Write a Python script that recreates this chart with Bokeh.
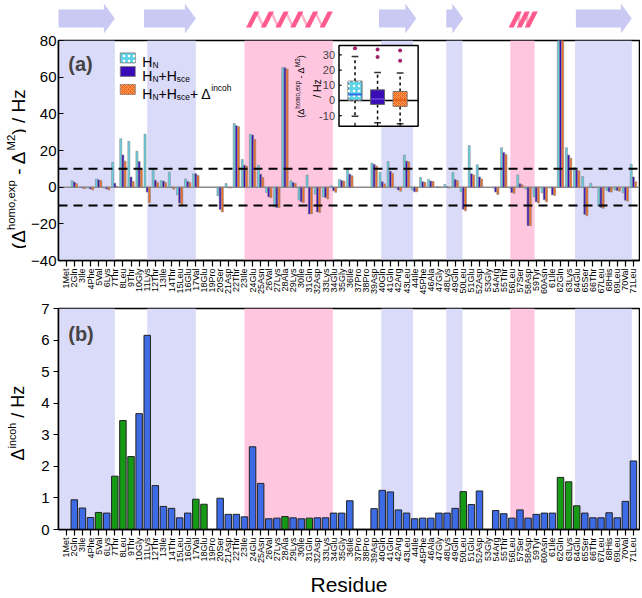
import math
import numpy as np
from bokeh.plotting import figure
from bokeh.layouts import column, row
from bokeh.models import Range1d, FixedTicker, BoxAnnotation, Span, Label, ColumnDataSource
from bokeh.transform import dodge
from bokeh.embed import file_html
from bokeh.resources import INLINE

# ---------------- data ----------------
residues = ["1Met", "2Gln", "3Ile", "4Phe", "5Val", "6Lys", "7Thr", "8Leu", "9Thr", "10Gly",
            "11Lys", "12Thr", "13Ile", "14Thr", "15Leu", "16Glu", "17Val", "18Glu", "19Pro", "20Ser",
            "21Asp", "22Thr", "23Ile", "24Glu", "25Asn", "26Val", "27Lys", "28Ala", "29Lys", "30Ile",
            "31Gln", "32Asp", "33Lys", "34Glu", "35Gly", "36Ile", "37Pro", "38Pro", "39Asp", "40Gln",
            "41Gln", "42Arg", "43Leu", "44Ile", "45Phe", "46Ala", "47Gly", "48Lys", "49Gln", "50Leu",
            "51Glu", "52Asp", "53Gly", "54Arg", "55Thr", "56Leu", "57Ser", "58Asp", "59Tyr", "60Asn",
            "61Ile", "62Gln", "63Lys", "64Glu", "65Ser", "66Thr", "67Leu", "68His", "69Leu", "70Val",
            "71Leu"]

# panel (a): Delta(homo,exp) - Delta(M2), Hz
hn = [None, 3.5, -0.2, -0.5, 4.4, -0.5, 13.5, 26.4, 25.0, 19.6,
      28.9, 9.5, 3.6, 8.2, -4.2, 4.5, 7.3, None, None, -4.7,
      2.0, 34.7, 15.1, 28.9, 12.0, -2.9, -10.7, 65.3, 3.5, -7.0,
      6.6, -3.8, -5.3, 0.8, 4.2, 9.8, None, None, 13.1, 8.2,
      14.0, -0.5, 17.5, -1.5, 5.3, 4.2, 0.3, 1.5, 8.0, -2.5,
      22.7, 12.2, None, -0.5, 21.5, -0.5, 6.7, -1.0, -5.3, -3.1,
      -0.5, 100.0, 21.5, 10.7, 5.8, 2.2, -10.4, -1.8, -1.5, -3.1,
      12.5]
hn_sce = [None, 2.8, -0.5, -1.0, 4.0, -1.0, 2.2, 17.6, 5.5, 14.0,
          -2.7, 3.8, 3.3, -0.3, -8.7, 3.1, 7.3, None, None, -12.2,
          -0.2, 33.5, 12.0, 28.5, 7.1, -5.3, -11.1, 65.1, 2.5, -8.0,
          -14.7, -13.5, -5.6, -2.0, 3.6, 7.1, None, None, 12.5, 2.9,
          8.7, -1.5, 14.2, -2.5, 2.9, 3.3, -0.3, 0.2, 4.2, -12.0,
          7.3, 5.6, None, -2.7, 18.9, -2.9, 1.8, -21.0, -8.0, -6.9,
          -4.2, 100.0, 17.5, 9.3, -14.9, -0.3, -11.1, -2.5, -1.8, -7.1,
          5.6]
hn_sce_inc = [None, 2.0, -0.8, -1.5, 3.6, -1.5, 0.3, 14.2, 3.1, 10.0,
              -8.5, 2.5, 2.5, -1.1, -9.5, 2.5, 6.4, None, None, -13.5,
              -0.5, 33.0, 11.5, 26.0, 5.3, -5.8, -11.1, 64.4, 2.0, -8.4,
              -14.5, -13.8, -6.4, -2.8, 3.3, 6.2, None, None, 11.6, 1.8,
              7.6, -2.2, 13.8, -2.5, 2.7, 3.1, -0.3, -0.5, 3.6, -12.9,
              6.7, 4.4, None, -4.0, 17.8, -3.3, 1.3, -21.0, -8.7, -8.0,
              -4.5, 100.0, 15.8, 8.9, -15.6, -0.3, -11.5, -2.7, -2.2, -7.6,
              2.9]

# panel (b): Delta(incoh), Hz
incoh = [None, 0.94, 0.68, 0.38, 0.54, 0.52, 1.69, 3.45, 2.31, 3.67,
         6.15, 1.39, 0.73, 0.67, 0.37, 0.52, 0.96, 0.80, None, 0.99,
         0.48, 0.48, 0.40, 2.62, 1.46, 0.34, 0.36, 0.41, 0.37, 0.34,
         0.36, 0.37, 0.37, 0.52, 0.52, 0.91, None, None, 0.66, 1.24,
         1.19, 0.62, 0.52, 0.34, 0.36, 0.36, 0.52, 0.52, 0.67, 1.20,
         0.79, 1.22, None, 0.60, 0.50, 0.36, 0.62, 0.36, 0.48, 0.52,
         0.52, 1.65, 1.51, 0.75, 0.52, 0.37, 0.37, 0.53, 0.37, 0.89,
         2.17]
green_residues = [5, 7, 8, 9, 17, 18, 28, 31, 50, 62, 63, 64]

# inset box plot statistics (Hz)
box_pos = [1, 2, 3]
box_q1 = [0.2, -2.6, -3.9]
box_q3 = [12.7, 7.0, 5.9]
box_med = [3.9, 1.0, 0.5]
box_lo = [-10.3, -14.7, -15.3]
box_hi = [28.9, 18.4, 18.0]
out_x = [1, 2, 2, 3, 3]
out_y = [34.4, 33.5, 28.5, 32.9, 26.1]
inset_ticks = [30, 20, 10, 0, -10]

# secondary structure (residue spans)
strands = [(0.0, 7.0), (10.6, 17.0), (39.6, 44.2), (47.9, 50.0), (63.9, 70.8)]
helices = [(23.2, 33.9, 6), (55.6, 59.2, 3)]
blue_bands = [(0.0, 7.0), (11.0, 17.0), (39.9, 43.8), (47.9, 49.9), (63.8, 70.8)]
pink_bands = [(23.0, 33.9), (55.8, 58.8)]

# ---------------- styling ----------------
FONT = "Liberation Sans"
C_CYAN = "#5fd3e8"
C_DBLUE = "#3a0cb8"
C_ORANGE = "#f26b21"
C_BBAR = "#3d6be6"
C_GBAR = "#169a16"
C_BAND_B = "#dadaf9"
C_BAND_P = "#ffc6e0"
C_ARROW = "#c9c9f3"
C_HELIX = "#ff5a8e"
C_HELIX_L = "#ffb3cb"

CW = {' ': .278, '(': .333, ')': .333, '-': .333, '/': .278, ',': .278, '+': .584,
      'Δ': .668, 'a': .556, 'b': .556, 'c': .5, 'd': .556, 'e': .556, 'h': .556,
      'i': .222, 'm': .833, 'n': .556, 'o': .556, 'p': .556, 's': .5, 'x': .5,
      'z': .5, 'H': .722, 'M': .833, 'N': .722}


def tw(s, size):
    return sum(CW.get(c, 0.556) for c in s) * size


def rich(p, x, y, segs, size, angle=0.0, align="center", x_offset=0.0, y_offset=0.0,
         ratio=0.6, sup=0.4, color="black", **rng):
    pieces = []
    total = 0.0
    for t, kind in segs:
        fs = size if kind == "n" else size * ratio
        shift = 0.0 if kind == "n" else (size * sup if kind == "sup" else -size * 0.22)
        pieces.append((t, fs, shift, total))
        total += tw(t, fs)
    start = -total / 2 if align == "center" else 0.0
    ca, sa = math.cos(angle), math.sin(angle)
    for t, fs, shift, cum in pieces:
        lead = len(t) - len(t.lstrip())
        a = start + cum + tw(" " * lead, fs)
        dx = a * ca - shift * sa
        dy = a * sa + shift * ca
        p.add_layout(Label(x=x, y=y, x_offset=x_offset + dx, y_offset=y_offset + dy,
                           text=t.strip(), angle=angle, text_font=FONT,
                           text_font_size=f"{fs:.1f}px", text_baseline="alphabetic",
                           text_align="left", text_color=color, **rng))


def nan(v):
    return np.array([np.nan if a is None else a for a in v], dtype=float)


resnum = list(range(1, len(residues) + 1))
LABW = 26          # width of the strip holding the rotated y titles
LB, RB = 32, 1
FW = 640 - LABW - LB - RB
FH_A, FH_B = 220, 221
TOP_A, TOP_B = 7, 11
TOPH = 33
x_range = Range1d(0.05, 71.75)


def add_bands(p):
    for s, e in blue_bands:
        p.add_layout(BoxAnnotation(left=s, right=e, fill_color=C_BAND_B, fill_alpha=1.0,
                                   line_color=None, level="underlay"))
    for s, e in pink_bands:
        p.add_layout(BoxAnnotation(left=s, right=e, fill_color=C_BAND_P, fill_alpha=1.0,
                                   line_color=None, level="underlay"))


def style_axes(p, yticks, tick_in, tick_out, standoff):
    p.grid.visible = False
    p.border_fill_alpha = 0
    p.outline_line_color = "black"
    p.outline_line_width = 1.5
    p.xaxis.ticker = FixedTicker(ticks=resnum)
    p.xaxis.major_label_overrides = {i: n for i, n in zip(resnum, residues)}
    p.xaxis.major_label_orientation = math.pi / 2
    p.xaxis.major_label_text_font = FONT
    p.xaxis.major_label_text_font_size = "9px"
    p.xaxis.major_label_standoff = 2
    p.xaxis.major_tick_out = 6
    p.xaxis.major_tick_in = 0
    p.yaxis.ticker = FixedTicker(ticks=yticks)
    p.yaxis.major_label_text_font = FONT
    p.yaxis.major_label_text_font_size = "15px"
    p.yaxis.major_tick_out = tick_out
    p.yaxis.major_tick_in = tick_in
    p.yaxis.major_label_standoff = standoff
    for ax in (p.xaxis, p.yaxis):
        ax.minor_tick_line_color = None
        ax.axis_line_width = 1.5
        ax.axis_line_color = "black"
        ax.major_tick_line_color = "black"
        ax.major_tick_line_width = 1.2
        ax.major_label_text_color = "black"


def title_strip(y_range, fh, top_border):
    f = figure(frame_width=LABW, frame_height=fh, x_range=Range1d(0, LABW), y_range=y_range,
               min_border_left=0, min_border_right=0, min_border_top=top_border,
               min_border_bottom=0, toolbar_location=None, output_backend="svg",
               x_axis_location=None, y_axis_location=None, outline_line_color=None)
    f.grid.visible = False
    return f


# ---------------- top: secondary structure ----------------
top = figure(frame_width=FW, frame_height=TOPH, x_range=x_range, y_range=Range1d(0, TOPH),
             min_border_left=LABW + LB, min_border_right=RB, min_border_top=0,
             min_border_bottom=0, toolbar_location=None, output_backend="svg",
             x_axis_location=None, y_axis_location=None, outline_line_color=None)
top.grid.visible = False
HL = 1.35
axs, ays = [], []
for s, e in strands:
    axs.append([s, e - HL, e - HL, e, e - HL, e - HL, s])
    ays.append([6, 6, 0, 15, 30, 24, 24])
top.patches(axs, ays, fill_color=C_ARROW, line_color=None)
W_ST, SL = 0.62, 1.0
hxs, hys, lx0, lx1 = [], [], [], []
for s, e, n in helices:
    step = (e - s - W_ST - SL) / (n - 1)
    starts = [s + i * step for i in range(n)]
    for i, x0 in enumerate(starts):
        hxs.append([x0, x0 + W_ST, x0 + W_ST + SL, x0 + SL])
        hys.append([6, 6, 22, 22])
        if i < n - 1:
            lx0.append(x0 + SL + W_ST * 0.5)
            lx1.append(starts[i + 1] + W_ST * 0.5)
top.segment(x0=lx0, y0=[21] * len(lx0), x1=lx1, y1=[7] * len(lx1),
            line_color=C_HELIX_L, line_width=2.5)
top.patches(hxs, hys, fill_color=C_HELIX, line_color=None)

# ---------------- panel (a) ----------------
pa = figure(frame_width=FW, frame_height=FH_A, x_range=x_range, y_range=Range1d(-40, 80),
            min_border_left=LB, min_border_right=RB, min_border_top=TOP_A, min_border_bottom=0,
            toolbar_location=None, output_backend="svg")
style_axes(pa, [-40, -20, 0, 20, 40, 60, 80], tick_in=5, tick_out=0, standoff=2)
add_bands(pa)
pa.add_layout(Span(location=0, dimension="width", line_color="#8c8c8c", line_width=1.5,
                   level="underlay"))
src_a = ColumnDataSource(dict(x=resnum, hn=nan(hn), hs=nan(hn_sce), hi=nan(hn_sce_inc)))
BW = 0.25
pa.vbar(x=dodge("x", -0.27), top="hn", bottom=0, width=BW, source=src_a,
        fill_color=C_CYAN, line_color="#8a8a8a", line_width=0.6)
pa.vbar(x="x", top="hs", bottom=0, width=BW, source=src_a,
        fill_color=C_DBLUE, line_color="#8a8a8a", line_width=0.6)
pa.vbar(x=dodge("x", 0.27), top="hi", bottom=0, width=BW, source=src_a,
        fill_color=C_ORANGE, line_color="#8a8a8a", line_width=0.6)
for loc in (10, -10):
    pa.add_layout(Span(location=loc, dimension="width", line_color="black", line_width=2,
                       line_dash="9 6"))

# legend
leg_colors = [C_CYAN, C_DBLUE, C_ORANGE]
leg_y = [70.5, 63.1, 53.3]
leg_base = [68.5, 60.7, 50.8]
pa.rect(x=[8.6] * 3, y=leg_y, width=15, height=10, width_units="screen", height_units="screen",
        fill_color=leg_colors, line_color="#777777", line_width=0.8)
pa.rect(x=[8.6], y=[leg_y[0]], width=15, height=10, width_units="screen", height_units="screen",
        fill_alpha=0, line_color=None, hatch_pattern="dot", hatch_color="white",
        hatch_scale=5, hatch_weight=1)
pa.rect(x=[8.6], y=[leg_y[2]], width=15, height=10, width_units="screen", height_units="screen",
        fill_alpha=0, line_color=None, hatch_pattern="x", hatch_color="#ffa060",
        hatch_scale=4, hatch_weight=1)
leg_texts = [
    [("H", "n"), ("N", "sub")],
    [("H", "n"), ("N", "sub"), ("+H", "n"), ("sce", "sub")],
    [("H", "n"), ("N", "sub"), ("+H", "n"), ("sce", "sub"), ("+ Δ", "n"), ("incoh", "sup")],
]
for segs, yb in zip(leg_texts, leg_base):
    rich(pa, 10.4, yb, segs, 14, align="left")

pa.add_layout(Label(x=1.25, y=67.0, text="(a)", text_font=FONT, text_font_size="20px",
                    text_font_style="bold", text_baseline="alphabetic"))

# inset (box plot) drawn through extra ranges mapped onto a sub-region of the frame
fx0, fx1 = 0.4828, 0.619
fy0, fy1 = 0.6105, 0.977
ix0, ix1 = 0.29, 3.8
iy0, iy1 = -16.9, 36.1
sxr = (ix1 - ix0) / (fx1 - fx0)
syr = (iy1 - iy0) / (fy1 - fy0)
pa.extra_x_ranges = {"ix": Range1d(ix0 - fx0 * sxr, ix0 + (1 - fx0) * sxr)}
pa.extra_y_ranges = {"iy": Range1d(iy0 - fy0 * syr, iy0 + (1 - fy0) * syr)}
IR = dict(x_range_name="ix", y_range_name="iy")
pa.quad(left=[ix0], right=[ix1], bottom=[iy0], top=[iy1], fill_color="white",
        line_color="black", line_width=1.5, **IR)
pa.segment(x0=[ix0], y0=[0], x1=[ix1], y1=[0], line_color="black", line_width=1.5, **IR)
pa.segment(x0=box_pos, y0=box_q3, x1=box_pos, y1=box_hi, line_color="black", line_width=1.5,
           line_dash="3 3", **IR)
pa.segment(x0=box_pos, y0=box_q1, x1=box_pos, y1=box_lo, line_color="black", line_width=1.5,
           line_dash="3 3", **IR)
pa.segment(x0=[b - 0.15 for b in box_pos], y0=box_hi, x1=[b + 0.15 for b in box_pos], y1=box_hi,
           line_color="#333333", line_width=1.5, **IR)
pa.segment(x0=[b - 0.15 for b in box_pos], y0=box_lo, x1=[b + 0.15 for b in box_pos], y1=box_lo,
           line_color="#333333", line_width=1.5, **IR)
pa.vbar(x=box_pos, top=box_q3, bottom=box_q1, width=0.62, fill_color=leg_colors,
        line_color="#666666", line_width=1, **IR)
pa.vbar(x=[box_pos[0]], top=[box_q3[0]], bottom=[box_q1[0]], width=0.62, fill_alpha=0,
        line_color=None, hatch_pattern="dot", hatch_color="white", hatch_scale=5, **IR)
pa.vbar(x=[box_pos[2]], top=[box_q3[2]], bottom=[box_q1[2]], width=0.62, fill_alpha=0,
        line_color=None, hatch_pattern="x", hatch_color="#ffa060", hatch_scale=4, **IR)
pa.segment(x0=[b - 0.31 for b in box_pos], y0=box_med, x1=[b + 0.31 for b in box_pos],
           y1=box_med, line_color=["#2f6ee8", "#5a3ad0", "#e0601c"], line_width=2, **IR)
pa.scatter(x=out_x, y=out_y, size=4, fill_color="#a3226c", line_color=None, **IR)
pa.segment(x0=[ix0] * len(inset_ticks), y0=inset_ticks, x1=[ix0 + 0.12] * len(inset_ticks),
           y1=inset_ticks, line_color="black", line_width=1.2, **IR)
pa.segment(x0=box_pos, y0=[iy0] * 3, x1=box_pos, y1=[iy0 + 2.2] * 3, line_color="black",
           line_width=1.2, **IR)
for t in inset_ticks:
    pa.add_layout(Label(x=ix0, y=t, x_offset=-4, text=str(t), text_align="right",
                        text_baseline="middle", text_font=FONT, text_font_size="11px", **IR))
rich(pa, ix0, 9.2, [("(Δ", "n"), ("homo,exp", "sup"), (" - Δ", "n"), ("M2", "sup"), (")", "n")],
     9, angle=math.pi / 2, x_offset=-38, ratio=0.7, **IR)
rich(pa, ix0, 7.9, [("/ Hz", "n")], 10.5, angle=math.pi / 2, x_offset=-22, **IR)

lab_a = title_strip(pa.y_range, FH_A, TOP_A)
rich(lab_a, 17.5, 9.8, [("(Δ", "n"), ("homo,exp", "sup"), (" - Δ", "n"), ("M2", "sup"),
                        (") / Hz", "n")], 19, angle=math.pi / 2, sup=0.35)

# ---------------- panel (b) ----------------
pb = figure(frame_width=FW, frame_height=FH_B, x_range=x_range, y_range=Range1d(0, 7),
            min_border_left=LB, min_border_right=RB, min_border_top=TOP_B, min_border_bottom=0,
            toolbar_location=None, output_backend="svg")
style_axes(pb, [0, 1, 2, 3, 4, 5, 6, 7], tick_in=0, tick_out=5, standoff=4)
add_bands(pb)
bar_colors = [C_GBAR if r in green_residues else C_BBAR for r in resnum]
src_b = ColumnDataSource(dict(x=resnum, v=nan(incoh), c=bar_colors))
pb.vbar(x="x", top="v", bottom=0, width=0.8, source=src_b, fill_color="c",
        line_color="#222222", line_width=1)
pb.xaxis.axis_label = "Residue"
pb.xaxis.axis_label_text_font = FONT
pb.xaxis.axis_label_text_font_size = "21px"
pb.xaxis.axis_label_text_font_style = "normal"
pb.xaxis.axis_label_text_color = "black"
pb.xaxis.axis_label_standoff = 6
pb.add_layout(Label(x=1.25, y=6.2, text="(b)", text_font=FONT, text_font_size="20px",
                    text_font_style="bold", text_baseline="alphabetic"))

lab_b = title_strip(pb.y_range, FH_B, TOP_B)
rich(lab_b, 17.5, 3.37, [("Δ", "n"), ("incoh", "sup"), (" / Hz", "n")], 18,
     angle=math.pi / 2, sup=0.35)

layout = column(top, row(lab_a, pa, spacing=0), row(lab_b, pb, spacing=0), spacing=0)
open("out.html", "w").write(file_html(layout, INLINE))
